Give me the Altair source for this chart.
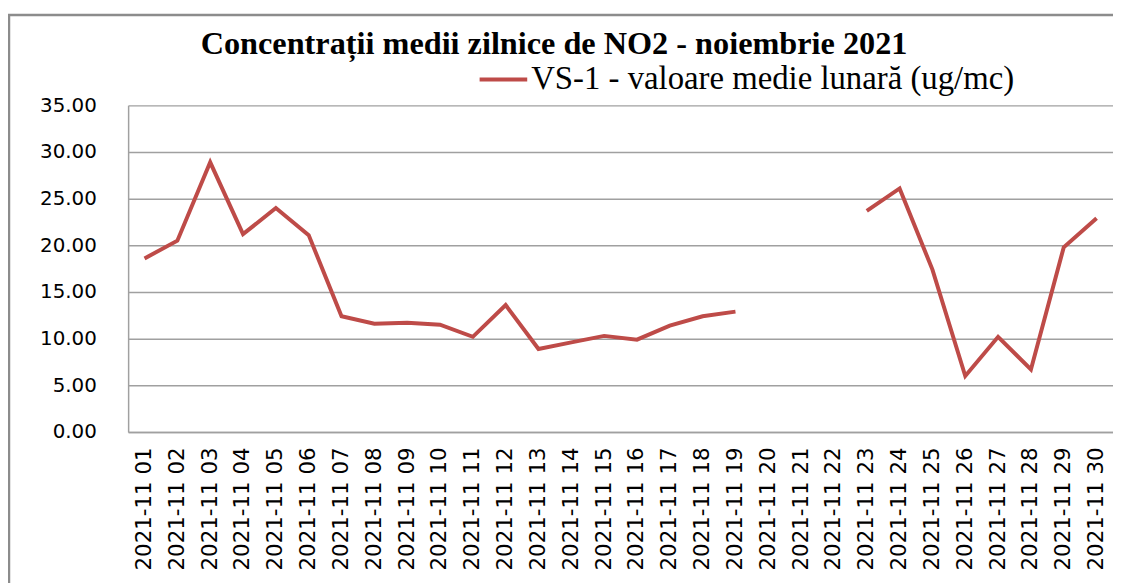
import altair as alt
import pandas as pd

days = [f"2021-11 {d:02d}" for d in range(1, 31)]
values = [18.6, 20.5, 28.9, 21.2, 24.0, 21.1, 12.4, 11.6, 11.7, 11.5,
          10.2, 13.6, 8.9, 9.6, 10.3, 9.9, 11.4, 12.4, 12.9, None,
          None, None, 23.7, 26.1, 17.4, 6.0, 10.2, 6.7, 19.8, 22.9]
series_name = "VS-1 - valoare medie lunară (ug/mc)"
title_text = "Concentrații  medii zilnice de NO2 - noiembrie 2021"

df = pd.DataFrame({"zi": days, "val": values, "serie": [series_name] * len(days)})

line = alt.Chart(df).mark_line(strokeWidth=4, invalid="break-paths-show-domains").encode(
    x=alt.X("zi:N", sort=days, scale=alt.Scale(domain=days, paddingInner=0, paddingOuter=0.0),
            axis=alt.Axis(title=None, labelAngle=-90, labelFont="DejaVu Sans", labelFontSize=21.5,
                          labelColor="#000000", ticks=False, labelPadding=15,
                          domainColor="#a0a0a0", domainWidth=1.5, grid=False)),
    y=alt.Y("val:Q", scale=alt.Scale(domain=[0, 35], nice=False),
            axis=alt.Axis(title=None, values=[0, 5, 10, 15, 20, 25, 30, 35], format=".2f",
                          labelFont="DejaVu Sans", labelFontSize=20, labelColor="#000000",
                          ticks=False, labelPadding=32, domainColor="#a0a0a0", domainWidth=1.5,
                          gridColor="#a0a0a0", gridWidth=1.5)),
    color=alt.Color("serie:N", scale=alt.Scale(range=["#be4b48"]),
                    legend=alt.Legend(title=None, orient="none", legendX=352, legendY=-52,
                                      symbolType="stroke", symbolStrokeWidth=4, symbolSize=2300,
                                      labelFont="Liberation Serif", labelFontSize=33,
                                      labelColor="#000000", labelLimit=900, labelOffset=2)),
)

frame = alt.Chart(pd.DataFrame({"k": [0]})).mark_rect(
    fill=None, stroke="#8c8c8c", strokeWidth=2.5, clip=False
).encode(x=alt.value(-120), x2=alt.value(2000), y=alt.value(-91), y2=alt.value(800))

title = alt.Chart(pd.DataFrame({"t": [title_text]})).mark_text(
    font="Liberation Serif", fontSize=32.5, fontWeight="bold", color="#000000",
    align="center", baseline="middle", clip=False
).encode(text="t:N", x=alt.value(429), y=alt.value(-62))

chart = alt.layer(frame, title, line).properties(
    width=992,
    height=329,
    autosize=alt.AutoSizeParams(type="none"),
    padding={"left": 121, "top": 96, "right": 0, "bottom": 150},
).configure_view(stroke=None)

chart.save("out.html", embed_options={"renderer": "svg", "actions": False})
